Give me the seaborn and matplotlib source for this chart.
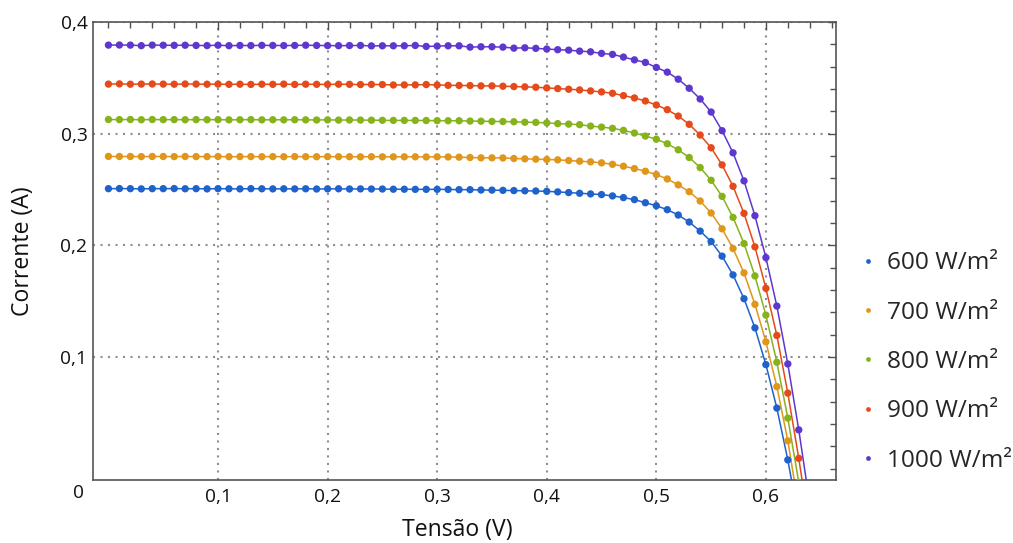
import pandas as pd
import numpy as np
import seaborn as sns
import matplotlib.pyplot as plt
import matplotlib as mpl
from matplotlib.ticker import FixedLocator, MultipleLocator

sns.set_theme(style='white')
mpl.rcParams['font.family'] = ['Open Sans', 'DejaVu Sans']

PALETTE = {
    "600 W/m²": "#1F62CC",
    "700 W/m²": "#E0961A",
    "800 W/m²": "#86B31C",
    "900 W/m²": "#E54A1A",
    "1000 W/m²": "#5E38CE",
}
HUE_ORDER = ["600 W/m²", "700 W/m²", "800 W/m²", "900 W/m²", "1000 W/m²"]

# tensao (V), one point every 0.01 V
tensao = [0.00, 0.01, 0.02, 0.03, 0.04, 0.05, 0.06, 0.07, 0.08, 0.09,
          0.10, 0.11, 0.12, 0.13, 0.14, 0.15, 0.16, 0.17, 0.18, 0.19,
          0.20, 0.21, 0.22, 0.23, 0.24, 0.25, 0.26, 0.27, 0.28, 0.29,
          0.30, 0.31, 0.32, 0.33, 0.34, 0.35, 0.36, 0.37, 0.38, 0.39,
          0.40, 0.41, 0.42, 0.43, 0.44, 0.45, 0.46, 0.47, 0.48, 0.49,
          0.50, 0.51, 0.52, 0.53, 0.54, 0.55, 0.56, 0.57, 0.58, 0.59,
          0.60, 0.61, 0.62, 0.63, 0.64]

# corrente (A)
i_600 = [0.2508, 0.2509, 0.2508, 0.2506, 0.2508, 0.2508, 0.2509, 0.2507, 0.2508, 0.2506,
         0.2508, 0.2507, 0.2506, 0.2508, 0.2507, 0.2506, 0.2507, 0.2506, 0.2507, 0.2505,
         0.2506, 0.2507, 0.2505, 0.2506, 0.2505, 0.2505, 0.2503, 0.2503, 0.2502, 0.2502,
         0.2502, 0.2501, 0.2499, 0.2499, 0.2496, 0.2495, 0.2493, 0.2491, 0.2489, 0.2487,
         0.2484, 0.2479, 0.2473, 0.2467, 0.2461, 0.2455, 0.2443, 0.2428, 0.2410, 0.2382,
         0.2355, 0.2320, 0.2272, 0.2209, 0.2128, 0.2035, 0.1904, 0.1736, 0.1523, 0.1262,
         0.0933, 0.0544, 0.0080, -0.0456]
i_700 = [0.2797, 0.2796, 0.2796, 0.2795, 0.2796, 0.2796, 0.2795, 0.2796, 0.2795, 0.2795,
         0.2796, 0.2794, 0.2795, 0.2795, 0.2794, 0.2795, 0.2794, 0.2795, 0.2794, 0.2794,
         0.2795, 0.2794, 0.2794, 0.2793, 0.2794, 0.2793, 0.2793, 0.2793, 0.2793, 0.2792,
         0.2793, 0.2792, 0.2790, 0.2787, 0.2784, 0.2784, 0.2783, 0.2778, 0.2775, 0.2772,
         0.2769, 0.2766, 0.2760, 0.2754, 0.2748, 0.2739, 0.2726, 0.2709, 0.2688, 0.2664,
         0.2634, 0.2595, 0.2542, 0.2481, 0.2398, 0.2290, 0.2149, 0.1972, 0.1754, 0.1473,
         0.1137, 0.0736, 0.0251, -0.0350]
i_800 = [0.3127, 0.3126, 0.3127, 0.3125, 0.3127, 0.3126, 0.3126, 0.3125, 0.3126, 0.3125,
         0.3126, 0.3124, 0.3125, 0.3126, 0.3124, 0.3125, 0.3124, 0.3125, 0.3124, 0.3123,
         0.3124, 0.3122, 0.3123, 0.3122, 0.3121, 0.3120, 0.3119, 0.3119, 0.3119, 0.3118,
         0.3117, 0.3116, 0.3116, 0.3113, 0.3112, 0.3110, 0.3109, 0.3107, 0.3103, 0.3101,
         0.3097, 0.3090, 0.3086, 0.3081, 0.3068, 0.3059, 0.3048, 0.3030, 0.3006, 0.2979,
         0.2951, 0.2910, 0.2856, 0.2787, 0.2697, 0.2583, 0.2439, 0.2251, 0.2017, 0.1727,
         0.1376, 0.0954, 0.0454, -0.0120]
i_900 = [0.3444, 0.3446, 0.3443, 0.3444, 0.3445, 0.3444, 0.3443, 0.3445, 0.3444, 0.3443,
         0.3444, 0.3442, 0.3443, 0.3441, 0.3443, 0.3442, 0.3444, 0.3441, 0.3443, 0.3442,
         0.3441, 0.3443, 0.3442, 0.3440, 0.3441, 0.3440, 0.3436, 0.3437, 0.3437, 0.3440,
         0.3436, 0.3433, 0.3432, 0.3431, 0.3428, 0.3428, 0.3425, 0.3422, 0.3419, 0.3416,
         0.3410, 0.3404, 0.3398, 0.3392, 0.3383, 0.3374, 0.3362, 0.3341, 0.3320, 0.3293,
         0.3257, 0.3215, 0.3158, 0.3084, 0.2988, 0.2874, 0.2721, 0.2529, 0.2287, 0.1987,
         0.1616, 0.1194, 0.0678, 0.0094, -0.0550]
i_1000 = [0.3793, 0.3794, 0.3793, 0.3788, 0.3793, 0.3792, 0.3791, 0.3792, 0.3790, 0.3789,
          0.3792, 0.3788, 0.3790, 0.3789, 0.3791, 0.3790, 0.3789, 0.3790, 0.3792, 0.3790,
          0.3789, 0.3788, 0.3789, 0.3790, 0.3786, 0.3787, 0.3787, 0.3787, 0.3790, 0.3781,
          0.3784, 0.3787, 0.3787, 0.3775, 0.3778, 0.3778, 0.3775, 0.3766, 0.3769, 0.3764,
          0.3758, 0.3752, 0.3748, 0.3739, 0.3733, 0.3719, 0.3710, 0.3686, 0.3661, 0.3638,
          0.3593, 0.3551, 0.3488, 0.3407, 0.3311, 0.3194, 0.3027, 0.2829, 0.2578, 0.2266,
          0.1891, 0.1457, 0.0939, 0.0349, -0.0310]

x_ticks = [0.1, 0.2, 0.3, 0.4, 0.5, 0.6]
x_labels = ['0,1', '0,2', '0,3', '0,4', '0,5', '0,6']
y_ticks = [0.1, 0.2, 0.3, 0.4]
y_labels = ['0,1', '0,2', '0,3', '0,4']

frames = []
for label, vals in zip(HUE_ORDER, [i_600, i_700, i_800, i_900, i_1000]):
    frames.append(pd.DataFrame({'tensao': tensao[:len(vals)], 'corrente': vals, 'irradiancia': label}))
df = pd.concat(frames, ignore_index=True)

fig = plt.figure(figsize=(10.13, 5.43), dpi=100)
ax = fig.add_axes([0.0918, 0.116, 0.7335, 0.8435])

sns.lineplot(data=df, x='tensao', y='corrente', hue='irradiancia', palette=PALETTE,
             hue_order=HUE_ORDER, estimator=None, sort=False, linewidth=1.1, legend=False, ax=ax)
sns.scatterplot(data=df, x='tensao', y='corrente', hue='irradiancia', palette=PALETTE,
                hue_order=HUE_ORDER, s=28, linewidth=0, zorder=3, ax=ax)

ax.set_xlim(-0.0141, 0.664)
ax.set_ylim(-0.0100, 0.4)

ax.xaxis.set_major_locator(FixedLocator(x_ticks))
ax.set_xticklabels(x_labels)
ax.yaxis.set_major_locator(FixedLocator(y_ticks))
ax.set_yticklabels(y_labels)
ax.xaxis.set_minor_locator(MultipleLocator(0.02))
ax.yaxis.set_minor_locator(MultipleLocator(0.02))

ax.tick_params(which='both', direction='in', top=True, right=True, color='#505050', width=1)
ax.tick_params(which='major', length=5.8)
ax.tick_params(which='minor', length=4.3)
ax.tick_params(axis='x', which='major', labelsize=13.8, pad=6, labelcolor='#111111')
ax.tick_params(axis='y', which='major', labelsize=13.8, pad=4, labelcolor='#111111')

for s in ax.spines.values():
    s.set_color('#555555')
    s.set_linewidth(1.2)

ax.grid(True, which='major', color='#8f8f8f', linestyle=(0, (1, 2.6)), linewidth=1.5)
ax.set_axisbelow(True)

ax.set_xlabel('Tensão (V)', fontsize=16.6, color='#111111')
ax.set_ylabel('Corrente (A)', fontsize=16.6, color='#111111')
ax.xaxis.set_label_coords(0.49, -0.084)
ax.yaxis.set_label_coords(-0.078, 0.5)

fig.text(79 / 1013, 1 - 493 / 543, '0', fontsize=13.8, ha='center', va='center', color='#111111')

handles, labels = ax.get_legend_handles_labels()
ax.legend_.remove()
fig.legend(handles, labels, loc='center left', bbox_to_anchor=(861 / 1013, 1 - 362 / 543),
           frameon=False, fontsize=17.6, markerscale=0.65, handlelength=0.6, handletextpad=0.45,
           labelspacing=1.04, borderaxespad=0, borderpad=0)

plt.savefig('out.png', dpi=100)
